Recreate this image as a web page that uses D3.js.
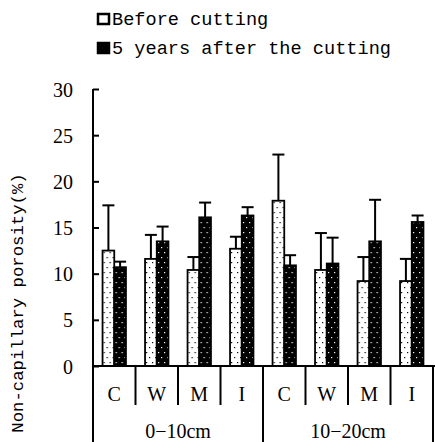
<!DOCTYPE html>
<html>
<head>
<meta charset="utf-8">
<script src="https://cdn.jsdelivr.net/npm/d3@7"></script>
<style>
  body { margin: 0; background: #fff; }
  svg { display: block; }
</style>
</head>
<body>
<script>
// depths and treatments
const depths = ["0-10cm", "10-20cm"];
const treatments = ["C", "W", "M", "I"];
const seriesNames = ["Before cutting", "5 years after the cutting"];

// mean values, per depth then treatment
const before = [12.5, 11.6, 10.4, 12.7, 17.9, 10.4, 9.2, 9.2];
const after = [10.7, 13.5, 16.1, 16.3, 10.9, 11.1, 13.5, 15.6];
// top of error bar
const beforeErr = [17.4, 14.2, 11.8, 14.0, 22.9, 14.4, 11.8, 11.6];
const afterErr = [11.3, 15.1, 17.7, 17.2, 12.0, 13.9, 18.0, 16.3];

const yTicks = [0, 5, 10, 15, 20, 25, 30];

const W = 435, H = 442;
const svg = d3.select("body").append("svg")
    .attr("width", W)
    .attr("height", H);

// dotted fills
const defs = svg.append("defs");
const mkPattern = (id, bg, dot) => {
    const p = defs.append("pattern")
        .attr("id", id)
        .attr("patternUnits", "userSpaceOnUse")
        .attr("width", 6)
        .attr("height", 10);
    p.append("rect").attr("width", 6).attr("height", 10).attr("fill", bg);
    p.append("rect").attr("x", 1).attr("y", 2).attr("width", 1.2).attr("height", 1.2).attr("fill", dot);
    p.append("rect").attr("x", 4).attr("y", 7).attr("width", 1.2).attr("height", 1.2).attr("fill", dot);
};
mkPattern("dotsWhite", "#fff", "#000");
mkPattern("dotsBlack", "#000", "#fff");

const keys = depths.flatMap(d => treatments.map(t => d + "|" + t));
const rows = keys.map((k, i) => ({
    key: k,
    treatment: k.split("|")[1],
    values: [
        { s: 0, v: before[i], e: beforeErr[i] },
        { s: 1, v: after[i], e: afterErr[i] },
    ]
}));

const x = d3.scaleBand().domain(keys).range([93, 433]).padding(0);
const xs = d3.scaleBand().domain([0, 1]).range([0, 23.4]);
const off = (x.bandwidth() - 23.4) / 2;
const y = d3.scaleLinear().domain([0, 30]).range([366, 89]);

const fills = ["url(#dotsWhite)", "url(#dotsBlack)"];

// bars
const g = svg.append("g")
    .selectAll("g")
    .data(rows)
    .join("g")
    .attr("transform", d => `translate(${x(d.key) + off},0)`);

g.selectAll("line.err")
    .data(d => d.values)
    .join("line")
    .attr("x1", d => xs(d.s) + xs.bandwidth() / 2)
    .attr("x2", d => xs(d.s) + xs.bandwidth() / 2)
    .attr("y1", d => y(d.v))
    .attr("y2", d => y(d.e))
    .attr("stroke", "#000")
    .attr("stroke-width", 2);
g.selectAll("line.cap")
    .data(d => d.values)
    .join("line")
    .attr("x1", d => xs(d.s) + xs.bandwidth() / 2 - 6)
    .attr("x2", d => xs(d.s) + xs.bandwidth() / 2 + 6)
    .attr("y1", d => y(d.e))
    .attr("y2", d => y(d.e))
    .attr("stroke", "#000")
    .attr("stroke-width", 2);

g.selectAll("rect")
    .data(d => d.values)
    .join("rect")
    .attr("x", d => xs(d.s))
    .attr("y", d => y(d.v))
    .attr("width", xs.bandwidth())
    .attr("height", d => y(0) - y(d.v))
    .attr("fill", d => fills[d.s])
    .attr("stroke", "#000")
    .attr("stroke-width", 1.8);

// y axis
const yAxis = svg.append("g")
    .attr("transform", "translate(93,0)")
    .call(d3.axisRight(y).tickValues(yTicks).tickSize(6).tickFormat(""));
yAxis.select(".domain").remove();
yAxis.selectAll(".tick line").attr("stroke", "#000").attr("stroke-width", 2);
yAxis.selectAll(".tick").append("text")
    .attr("x", -20)
    .attr("dy", "0.35em")
    .attr("text-anchor", "end")
    .attr("fill", "#000")
    .attr("font-family", "Liberation Serif")
    .attr("font-size", 20)
    .text(d => d);

const axisStyle = sel => sel.attr("stroke", "#000").attr("stroke-width", 2);
svg.append("line").attr("x1", 93).attr("x2", 93).attr("y1", y(30)).attr("y2", H).call(axisStyle);
svg.append("line").attr("x1", 92).attr("x2", W).attr("y1", y(0)).attr("y2", y(0)).call(axisStyle);

// x dividers
keys.forEach((k, i) => {
    if (i === 0) return;
    const long = i % treatments.length === 0;
    svg.append("line")
        .attr("x1", x(k)).attr("x2", x(k))
        .attr("y1", y(0)).attr("y2", long ? H : 405)
        .call(axisStyle);
});
svg.append("line")
    .attr("x1", 433).attr("x2", 433)
    .attr("y1", y(0)).attr("y2", H)
    .call(axisStyle);

// category labels
svg.append("g")
    .selectAll("text")
    .data(rows)
    .join("text")
    .attr("x", d => x(d.key) + x.bandwidth() / 2)
    .attr("y", 401)
    .attr("text-anchor", "middle")
    .attr("font-family", "Liberation Serif")
    .attr("font-size", 20)
    .text(d => d.treatment);

svg.append("g")
    .selectAll("text")
    .data(depths)
    .join("text")
    .attr("x", (d, i) => x(d + "|C") + x.bandwidth() * 2)
    .attr("y", 438)
    .attr("text-anchor", "middle")
    .attr("font-family", "Liberation Serif")
    .attr("font-size", 20)
    .text(d => d.replace("-", "\u2212"));

// y label
svg.append("text")
    .attr("transform", "translate(23,303) rotate(-90)")
    .attr("text-anchor", "middle")
    .attr("font-family", "Liberation Mono")
    .attr("font-size", 17.3)
    .text("Non-capillary porosity(%)");

// legend
const legend = svg.append("g")
    .selectAll("g")
    .data(seriesNames)
    .join("g")
    .attr("transform", (d, i) => `translate(97,${13 + i * 29})`);
legend.append("rect")
    .attr("x", 1).attr("y", 1)
    .attr("width", 11).attr("height", 10)
    .attr("fill", (d, i) => i ? "#000" : "#fff")
    .attr("stroke", "#000")
    .attr("stroke-width", 2.5);
legend.append("text")
    .attr("x", 15)
    .attr("y", 12)
    .attr("font-family", "Liberation Mono")
    .attr("font-size", 18.6)
    .text(d => d);
</script>
</body>
</html>
